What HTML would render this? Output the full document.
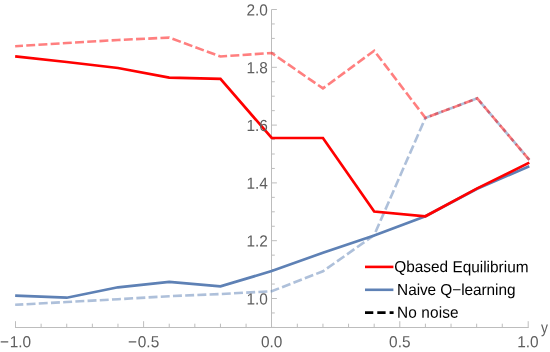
<!DOCTYPE html>
<html><head><meta charset="utf-8"><title>plot</title>
<style>
html,body{margin:0;padding:0;background:#fff;}
body{width:550px;height:352px;overflow:hidden;font-family:"Liberation Sans",sans-serif;}
svg{display:block}
text{font-family:"Liberation Sans",sans-serif;}
.tl{font-size:15.4px;fill:#5e5e5e;}
.lg{font-size:15.4px;fill:#000;}
</style></head><body>
<svg width="550" height="352" viewBox="0 0 550 352">
<rect width="550" height="352" fill="#fff"/>

<g stroke="#bdbdbd" stroke-width="1" fill="none">
<line x1="15.0" y1="327.5" x2="528.7" y2="327.5"/>
<line x1="271.5" y1="9.5" x2="271.5" y2="327.5"/>
<line x1="15.50" y1="327.5" x2="15.50" y2="321.2"/>
<line x1="41.12" y1="327.5" x2="41.12" y2="323.7"/>
<line x1="66.74" y1="327.5" x2="66.74" y2="323.7"/>
<line x1="92.36" y1="327.5" x2="92.36" y2="323.7"/>
<line x1="117.98" y1="327.5" x2="117.98" y2="323.7"/>
<line x1="143.60" y1="327.5" x2="143.60" y2="321.2"/>
<line x1="169.22" y1="327.5" x2="169.22" y2="323.7"/>
<line x1="194.84" y1="327.5" x2="194.84" y2="323.7"/>
<line x1="220.46" y1="327.5" x2="220.46" y2="323.7"/>
<line x1="246.08" y1="327.5" x2="246.08" y2="323.7"/>
<line x1="271.50" y1="327.5" x2="271.50" y2="321.2"/>
<line x1="297.32" y1="327.5" x2="297.32" y2="323.7"/>
<line x1="322.94" y1="327.5" x2="322.94" y2="323.7"/>
<line x1="348.56" y1="327.5" x2="348.56" y2="323.7"/>
<line x1="374.18" y1="327.5" x2="374.18" y2="323.7"/>
<line x1="399.80" y1="327.5" x2="399.80" y2="321.2"/>
<line x1="425.42" y1="327.5" x2="425.42" y2="323.7"/>
<line x1="451.04" y1="327.5" x2="451.04" y2="323.7"/>
<line x1="476.66" y1="327.5" x2="476.66" y2="323.7"/>
<line x1="502.28" y1="327.5" x2="502.28" y2="323.7"/>
<line x1="528.20" y1="327.5" x2="528.20" y2="321.2"/>
<line x1="271.5" y1="327.40" x2="274.8" y2="327.40"/>
<line x1="271.5" y1="312.95" x2="274.8" y2="312.95"/>
<line x1="271.5" y1="298.50" x2="276.9" y2="298.50"/>
<line x1="271.5" y1="284.05" x2="274.8" y2="284.05"/>
<line x1="271.5" y1="269.60" x2="274.8" y2="269.60"/>
<line x1="271.5" y1="255.15" x2="274.8" y2="255.15"/>
<line x1="271.5" y1="240.70" x2="276.9" y2="240.70"/>
<line x1="271.5" y1="226.25" x2="274.8" y2="226.25"/>
<line x1="271.5" y1="211.80" x2="274.8" y2="211.80"/>
<line x1="271.5" y1="197.35" x2="274.8" y2="197.35"/>
<line x1="271.5" y1="182.90" x2="276.9" y2="182.90"/>
<line x1="271.5" y1="168.45" x2="274.8" y2="168.45"/>
<line x1="271.5" y1="154.00" x2="274.8" y2="154.00"/>
<line x1="271.5" y1="139.55" x2="274.8" y2="139.55"/>
<line x1="271.5" y1="125.10" x2="276.9" y2="125.10"/>
<line x1="271.5" y1="110.65" x2="274.8" y2="110.65"/>
<line x1="271.5" y1="96.20" x2="274.8" y2="96.20"/>
<line x1="271.5" y1="81.75" x2="274.8" y2="81.75"/>
<line x1="271.5" y1="67.30" x2="276.9" y2="67.30"/>
<line x1="271.5" y1="52.85" x2="274.8" y2="52.85"/>
<line x1="271.5" y1="38.40" x2="274.8" y2="38.40"/>
<line x1="271.5" y1="23.95" x2="274.8" y2="23.95"/>
<line x1="271.5" y1="9.50" x2="276.9" y2="9.50"/>
</g>
<g fill="none" stroke-linejoin="miter" stroke-linecap="butt">
<polyline points="15.15,304.80 66.74,302.00 117.98,299.20 169.22,296.20 220.46,294.00 271.70,291.20 322.94,271.30 374.18,235.20 425.42,117.90 477.20,98.40 529.30,159.80" stroke="#5e81b5" stroke-opacity="0.5" stroke-width="2.6" stroke-dasharray="8.95 3.27" stroke-dashoffset="0.8"/>
<polyline points="15.15,46.20 66.74,43.00 117.98,40.00 169.22,37.60 220.46,56.50 271.70,53.00 322.94,88.40 374.18,50.70 425.42,117.90 477.20,98.40 529.30,159.80" stroke="#ff0000" stroke-opacity="0.5" stroke-width="2.6" stroke-dasharray="8.95 3.27" stroke-dashoffset="1.1"/>
<polyline points="15.15,295.60 66.74,297.70 117.98,287.30 169.22,281.80 220.46,286.40 271.70,271.00 322.94,252.80 374.18,235.50 425.42,216.30 477.20,188.80 529.30,166.30" stroke="#5e81b5" stroke-width="2.7"/>
<polyline points="15.15,56.40 66.74,62.00 117.98,68.00 169.22,77.60 220.46,78.80 271.70,138.00 322.94,138.00 374.18,211.50 425.42,216.30 477.20,188.40 529.30,162.60" stroke="#ff0000" stroke-width="2.7"/>
</g>
<defs><filter id="nf" x="0" y="0" width="550" height="352" filterUnits="userSpaceOnUse"><feOffset dx="0" dy="0"/></filter></defs><g filter="url(#nf)">
<text class="tl" transform="translate(15.5,347.3) rotate(0.03) scale(1,1.05)" text-anchor="middle"><tspan>−</tspan><tspan dx="0.8">1.0</tspan></text>
<text class="tl" transform="translate(143.6,347.3) rotate(0.03) scale(1,1.05)" text-anchor="middle"><tspan>−</tspan><tspan dx="0.8">0.5</tspan></text>
<text class="tl" transform="translate(271.7,347.3) rotate(0.03) scale(1,1.05)" text-anchor="middle">0.0</text>
<text class="tl" transform="translate(399.8,347.3) rotate(0.03) scale(1,1.05)" text-anchor="middle">0.5</text>
<text class="tl" transform="translate(527.9,347.3) rotate(0.03) scale(1,1.05)" text-anchor="middle">1.0</text>
<text class="tl" transform="translate(267.9,304.4) rotate(0.03) scale(1,1.05)" text-anchor="end">1.0</text>
<text class="tl" transform="translate(267.9,246.6) rotate(0.03) scale(1,1.05)" text-anchor="end">1.2</text>
<text class="tl" transform="translate(267.9,188.8) rotate(0.03) scale(1,1.05)" text-anchor="end">1.4</text>
<text class="tl" transform="translate(267.9,131.0) rotate(0.03) scale(1,1.05)" text-anchor="end">1.6</text>
<text class="tl" transform="translate(267.9,73.2) rotate(0.03) scale(1,1.05)" text-anchor="end">1.8</text>
<text class="tl" transform="translate(267.9,15.4) rotate(0.03) scale(1,1.05)" text-anchor="end">2.0</text>
<text class="tl" transform="translate(541,333) rotate(0.03) scale(0.9,1.04)">y</text>
<g fill="none" stroke-width="2.6">
<line x1="365" y1="266.9" x2="393.4" y2="266.9" stroke="#ff0000"/>
<line x1="365" y1="289.8" x2="393.4" y2="289.8" stroke="#5e81b5"/>
<line x1="365" y1="312.6" x2="393.6" y2="312.6" stroke="#000" stroke-dasharray="8.3 4"/>
</g>
<text class="lg" transform="translate(394.2,272.1) rotate(0.03) scale(1,1.03)">Qbased Equilibrium</text>
<text class="lg" transform="translate(397.1,294.9) rotate(0.03) scale(1,1.03)" textLength="118.4">Naive Q−learning</text>
<text class="lg" transform="translate(397.1,317.8) rotate(0.03) scale(1,1.03)" textLength="61.4">No noise</text>
</g>
</svg></body></html>
